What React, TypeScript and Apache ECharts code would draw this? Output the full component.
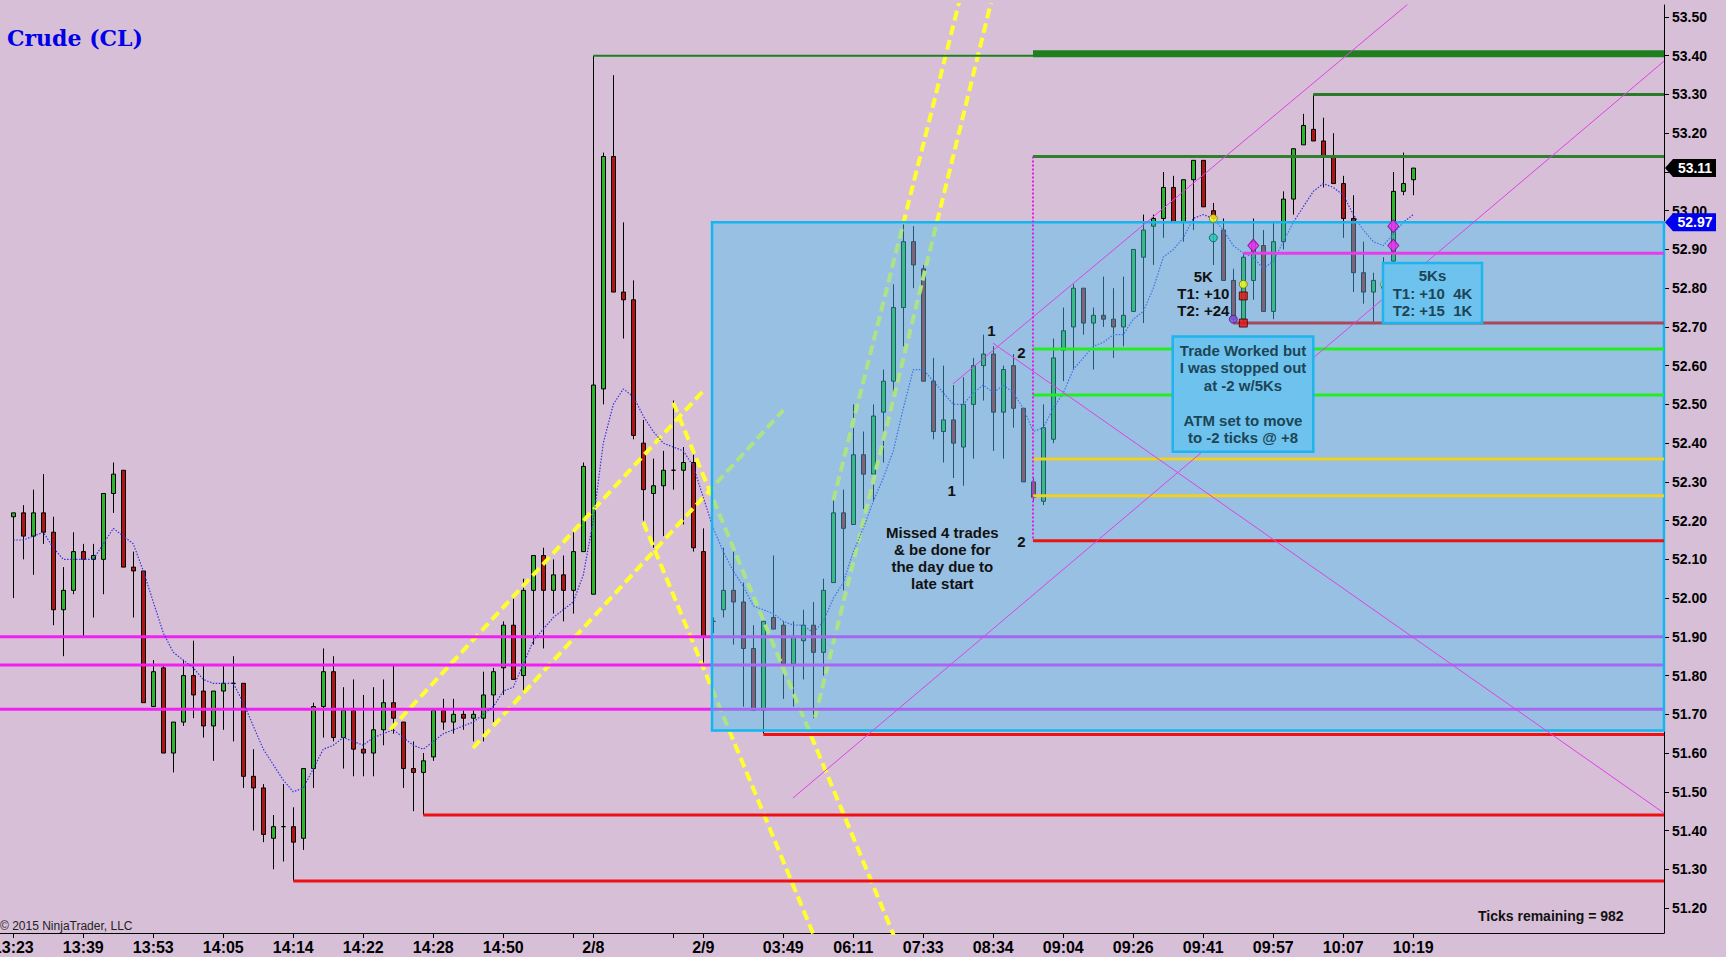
import React, { useEffect, useRef } from "react";
import * as echarts from "echarts";

// bar index axis: bar i sits at x = 13.3 + 10 * i px
const X_MIN = -1.33;
const X_MAX = 165.07;
const Y_MIN = 51.1355;
const Y_MAX = 53.531;

const tickBars = [0, 7, 14, 21, 28, 35, 42, 49, 56, 58, 66, 69, 77, 84, 91, 98, 105, 112, 119, 126, 133, 140];
const labelBars = [0, 7, 14, 21, 28, 35, 42, 49, 58, 69, 77, 84, 91, 98, 105, 112, 119, 126, 133, 140];
const timeLabels = ["13:23", "13:39", "13:53", "14:05", "14:14", "14:22", "14:28", "14:50", "2/8", "2/9", "03:49", "06:11", "07:33", "08:34", "09:04", "09:26", "09:41", "09:57", "10:07", "10:19"];
const priceTicks = [51.2, 51.3, 51.4, 51.5, 51.6, 51.7, 51.8, 51.9, 52.0, 52.1, 52.2, 52.3, 52.4, 52.5, 52.6, 52.7, 52.8, 52.9, 53.0, 53.1, 53.2, 53.3, 53.4, 53.5];
// 53.10 sits under the last-price flag, so no label is shown for it
const priceLabels = [51.2, 51.3, 51.4, 51.5, 51.6, 51.7, 51.8, 51.9, 52.0, 52.1, 52.2, 52.3, 52.4, 52.5, 52.6, 52.7, 52.8, 52.9, 53.0, 53.2, 53.3, 53.4, 53.5];

const opens = [
  52.21, 52.22, 52.16, 52.22, 52.17, 51.97, 52.02, 52.12, 52.10, 52.10,
  52.27, 52.33, 52.08, 52.07, 51.72, 51.82, 51.60, 51.68, 51.80, 51.76,
  51.67, 51.76, 51.78, 51.78, 51.54, 51.51, 51.38, 51.41, 51.41, 51.38,
  51.56, 51.72, 51.81, 51.64, 51.71, 51.61, 51.60, 51.66, 51.73, 51.68,
  51.56, 51.55, 51.59, 51.71, 51.68, 51.70, 51.69, 51.69, 51.75, 51.82,
  51.93, 51.80, 52.02, 52.11, 52.02, 52.06, 52.02, 52.12, 52.01, 52.54,
  53.14, 52.79, 52.77, 52.40, 52.27, 52.29, 52.33, 52.33, 52.35, 52.12,
  51.94, 51.97, 52.02, 51.99, 51.87, 51.71, 51.95, 51.93, 51.83, 51.89,
  51.93, 51.86, 52.04, 52.22, 52.19, 52.37, 52.32, 52.48, 52.56, 52.75,
  52.92, 52.85, 52.56, 52.43, 52.46, 52.39, 52.50, 52.60, 52.63, 52.48,
  52.60, 52.49, 52.30, 52.25, 52.41, 52.64, 52.70, 52.80, 52.71, 52.73,
  52.72, 52.70, 52.74, 52.88, 52.96, 52.98, 53.06, 52.97, 53.08, 53.13,
  53.00, 52.95, 52.82, 52.72, 52.82, 52.91, 52.74, 52.92, 53.03, 53.17,
  53.21, 53.18, 53.14, 53.07, 52.98, 52.84, 52.79, 52.80, 52.87, 53.05, 53.08,
];
const highs = [
  52.22, 52.24, 52.28, 52.32, 52.21, 52.08, 52.17, 52.14, 52.14, 52.27,
  52.35, 52.33, 52.12, 52.07, 51.84, 51.83, 51.68, 51.84, 51.89, 51.83,
  51.76, 51.83, 51.85, 51.78, 51.61, 51.52, 51.44, 51.52, 51.46, 51.56,
  51.73, 51.87, 51.85, 51.77, 51.79, 51.75, 51.77, 51.79, 51.83, 51.68,
  51.63, 51.60, 51.71, 51.74, 51.74, 51.71, 51.71, 51.81, 51.82, 51.94,
  52.00, 52.05, 52.11, 52.13, 52.10, 52.11, 52.17, 52.35, 53.40, 53.15,
  53.35, 52.97, 52.82, 52.46, 52.36, 52.38, 52.51, 52.39, 52.37, 52.18,
  51.95, 52.13, 52.12, 52.04, 51.93, 51.94, 52.11, 51.94, 51.94, 51.97,
  51.99, 52.05, 52.26, 52.28, 52.50, 52.43, 52.50, 52.59, 52.81, 52.97,
  52.96, 52.86, 52.62, 52.60, 52.55, 52.57, 52.62, 52.68, 52.65, 52.60,
  52.63, 52.49, 52.31, 52.50, 52.67, 52.75, 52.81, 52.80, 52.75, 52.83,
  52.80, 52.83, 52.90, 52.99, 52.99, 53.10, 53.09, 53.08, 53.13, 53.13,
  53.02, 52.98, 52.85, 52.89, 52.98, 52.95, 52.97, 53.05, 53.16, 53.25,
  53.30, 53.24, 53.20, 53.09, 53.04, 52.92, 52.84, 52.88, 53.10, 53.15, 53.11,
];
const lows = [
  52.00, 52.10, 52.06, 52.14, 51.93, 51.85, 52.01, 51.90, 51.95, 52.01,
  52.22, 52.08, 51.95, 51.73, 51.72, 51.60, 51.55, 51.67, 51.69, 51.64,
  51.58, 51.66, 51.63, 51.51, 51.40, 51.37, 51.30, 51.32, 51.27, 51.35,
  51.51, 51.64, 51.63, 51.56, 51.54, 51.54, 51.54, 51.62, 51.65, 51.51,
  51.45, 51.44, 51.58, 51.66, 51.65, 51.66, 51.63, 51.63, 51.68, 51.75,
  51.79, 51.76, 51.88, 51.87, 51.96, 51.94, 51.96, 52.12, 52.01, 52.50,
  52.79, 52.67, 52.41, 52.20, 52.13, 52.16, 52.28, 52.19, 52.12, 51.82,
  51.91, 51.95, 51.88, 51.72, 51.71, 51.65, 51.92, 51.74, 51.72, 51.79,
  51.69, 51.80, 52.04, 52.02, 52.19, 52.23, 52.25, 52.35, 52.53, 52.65,
  52.80, 52.56, 52.41, 52.35, 52.31, 52.29, 52.36, 52.51, 52.38, 52.36,
  52.44, 52.30, 52.25, 52.24, 52.40, 52.56, 52.59, 52.68, 52.59, 52.70,
  52.62, 52.65, 52.74, 52.71, 52.86, 52.93, 52.97, 52.92, 52.95, 53.01,
  52.86, 52.82, 52.71, 52.71, 52.77, 52.74, 52.72, 52.90, 52.99, 53.17,
  53.18, 53.06, 53.07, 52.93, 52.79, 52.76, 52.71, 52.77, 52.85, 53.04, 53.04,
];
const closes = [
  52.22, 52.16, 52.22, 52.17, 51.97, 52.02, 52.12, 52.10, 52.11, 52.27,
  52.32, 52.08, 52.07, 51.73, 51.81, 51.60, 51.68, 51.80, 51.75, 51.67,
  51.76, 51.78, 51.78, 51.54, 51.51, 51.39, 51.41, 51.41, 51.37, 51.56,
  51.72, 51.81, 51.64, 51.71, 51.61, 51.60, 51.66, 51.73, 51.69, 51.56,
  51.55, 51.58, 51.71, 51.68, 51.70, 51.69, 51.70, 51.75, 51.81, 51.93,
  51.79, 52.02, 52.11, 52.02, 52.06, 52.02, 52.12, 52.34, 52.55, 53.14,
  52.79, 52.77, 52.42, 52.28, 52.29, 52.33, 52.33, 52.35, 52.13, 51.90,
  51.94, 52.02, 51.99, 51.87, 51.71, 51.94, 51.92, 51.83, 51.90, 51.93,
  51.86, 52.02, 52.22, 52.18, 52.37, 52.32, 52.47, 52.56, 52.75, 52.92,
  52.86, 52.56, 52.43, 52.46, 52.40, 52.50, 52.60, 52.63, 52.48, 52.59,
  52.49, 52.30, 52.26, 52.44, 52.62, 52.69, 52.80, 52.71, 52.73, 52.72,
  52.70, 52.73, 52.90, 52.95, 52.98, 53.06, 52.97, 53.08, 53.13, 53.01,
  52.98, 52.82, 52.72, 52.88, 52.92, 52.74, 52.92, 53.03, 53.16, 53.22,
  53.18, 53.14, 53.07, 52.98, 52.84, 52.79, 52.82, 52.81, 53.05, 53.07, 53.11,
];
// moving average
const movingAvg = [
  52.15, 52.15, 52.16, 52.17, 52.13, 52.10, 52.10, 52.10, 52.10, 52.14,
  52.18, 52.16, 52.14, 52.07, 51.99, 51.91, 51.86, 51.84, 51.82, 51.79,
  51.78, 51.78, 51.78, 51.73, 51.67, 51.61, 51.57, 51.53, 51.50, 51.51,
  51.56, 51.61, 51.62, 51.64, 51.63, 51.62, 51.64, 51.65, 51.66, 51.64,
  51.62, 51.61, 51.63, 51.65, 51.66, 51.67, 51.68, 51.70, 51.72, 51.76,
  51.77, 51.83, 51.89, 51.92, 51.95, 51.97, 51.99, 52.06, 52.20, 52.40,
  52.50, 52.54, 52.52, 52.47, 52.43, 52.40, 52.39, 52.38, 52.34, 52.26,
  52.18, 52.12, 52.07, 52.03, 51.98, 51.97, 51.96, 51.94, 51.93, 51.93,
  51.91, 51.94, 52.00, 52.04, 52.12, 52.18, 52.25, 52.31, 52.38, 52.49,
  52.59, 52.59, 52.56, 52.53, 52.50, 52.50, 52.53, 52.55, 52.53, 52.55,
  52.53, 52.49, 52.43, 52.44, 52.49, 52.53, 52.59, 52.62, 52.65, 52.66,
  52.68, 52.68, 52.72, 52.74, 52.80, 52.88, 52.90, 52.93, 52.98, 52.99,
  52.98, 52.95, 52.91, 52.89, 52.88, 52.85, 52.87, 52.92, 52.97, 53.01,
  53.05, 53.07, 53.06, 53.04, 52.99, 52.95, 52.92, 52.91, 52.94, 52.97, 52.99,
];

// horizontal price levels: price and first bar
const levelPrices = [53.4, 53.405, 53.3, 53.14, 52.89, 52.71, 52.643, 52.524, 52.359, 52.264, 52.148, 51.9, 51.827, 51.713, 51.648, 51.44, 51.27];
const levelStarts = [58, 101.97, 130, 101.97, 123, 122, 101.97, 101.97, 101.97, 101.97, 101.97, X_MIN, X_MIN, X_MIN, 75, 41, 28];
const levelColors = ["#1F7F1F", "#1F7F1F", "#2A7A2A", "#2F7F2F", "#E83CE8", "#A8485E", "#22EE22", "#22EE22", "#F0D020", "#F0D020", "#EE1111", "#F020F0", "#F020F0", "#F020F0", "#EE1111", "#EE1111", "#EE1111"];
const levelWidths = [2, 7, 3, 3, 3, 3, 3, 3, 3, 3, 3, 3, 3, 3, 3, 3, 3];
const levelZ = [4, 4, 4, 4, 4, 4, 4, 4, 4, 4, 4, 2.5, 2.5, 2.5, 4, 4, 4];

// drawn trend lines, [bar, price] end points
const yellowLines = [
  [[37.67, 51.66], [69.0, 52.535]],
  [[45.97, 51.613], [77.0, 52.485]],
  [[63.0, 52.196], [81.9, 51.014]],
  [[66.0, 52.504], [89.9, 51.014]],
  [[82.0, 52.252], [95.15, 53.596]],
  [[80.17, 51.692], [98.33, 53.596]],
];
const magentaLines = [
  [[77.97, 51.484], [X_MAX, 53.386]],
  [[93.97, 52.553], [141.16, 53.57]],
  [[97.97, 52.658], [X_MAX, 51.445]],
];
const entryLine = [[101.97, 53.14], [101.97, 52.148]];

// shaded zone: left bar, top, right, bottom
const zone = [69.87, 52.97, X_MAX, 51.658];

const yellowDots = [[120, 52.98], [123, 52.81]];
const tealDots = [[120, 52.93]];
const purpleDots = [[122, 52.72]];
const paleDots = [[137, 52.81]];
const redSquares = [[123, 52.78], [123, 52.71]];
const diamonds = [[124, 52.91], [138, 52.96], [138, 52.91]];

const noteTexts = ["1", "1", "2", "2", "Missed 4 trades\n& be done for\nthe day due to\nlate start", "5K\nT1: +10\nT2: +24"];
const noteX = [97.8, 93.84, 100.8, 100.8, 92.9, 119.0];
const noteY = [52.692, 52.279, 52.633, 52.145, 52.103, 52.787];

const boxTexts = ["Trade Worked but\nI was stopped out\nat -2 w/5Ks\n\nATM set to move\nto -2 ticks @ +8", "5Ks\nT1: +10  4K\nT2: +15  1K"];
const boxLeft = [115.94, 136.97];
const boxTop = [52.675, 52.865];
const boxRight = [130.0, 146.87];
const boxBottom = [52.378, 52.71];

const flagPrices = [53.11, 52.97];

const FONT = '"Liberation Sans", Arial, sans-serif';

const lineSeries = (data: number[][], color: string, width: number, z: number, type: any = "solid") => ({
  type: "line",
  data,
  symbol: "none",
  silent: true,
  z,
  lineStyle: { color, width, type },
});

const App: React.FC = () => {
  const chartRef = useRef<HTMLDivElement>(null);

  useEffect(() => {
    if (!chartRef.current) return;
    const chart = echarts.init(chartRef.current, null, { renderer: "svg" });

    const candleData = opens.map((o, i) => [i, o, closes[i], lows[i], highs[i]]);

    const series: any[] = [
      {
        type: "candlestick",
        z: 2,
        data: candleData,
        barWidth: 4,
        itemStyle: {
          color: "#2DB52D",
          color0: "#B01414",
          borderColor: "#000",
          borderColor0: "#000",
          borderWidth: 1,
        },
      },
      lineSeries(movingAvg.map((v, i) => [i, v]), "#3434E0", 1.2, 2.6, [1.5, 1.5]),
      ...yellowLines.map((l) => lineSeries(l, "#FFFF30", 4, 2.5, [10, 5])),
      ...levelPrices.map((p, i) =>
        lineSeries([[levelStarts[i], p], [X_MAX, p]], levelColors[i], levelWidths[i], levelZ[i])
      ),
      ...magentaLines.map((l) => lineSeries(l, "#E040E8", 1, 4)),
      lineSeries(entryLine, "#E020E0", 2, 4, [2, 2]),
      {
        type: "custom",
        z: 3,
        silent: true,
        data: [zone],
        encode: { x: [0, 2], y: [1, 3] },
        renderItem: (params: any, api: any) => {
          const a = api.coord([api.value(0), api.value(1)]);
          const b = api.coord([api.value(2), api.value(3)]);
          return {
            type: "rect",
            shape: { x: a[0], y: a[1], width: b[0] - a[0], height: b[1] - a[1] },
            style: { fill: "rgba(74,193,240,0.45)", stroke: "#12B6F0", lineWidth: 2.5 },
          };
        },
      },
      {
        type: "scatter", z: 5, silent: true, data: yellowDots, symbol: "circle", symbolSize: 8,
        itemStyle: { color: "#FFFF20", borderColor: "#6A6A00", borderWidth: 1 },
      },
      {
        type: "scatter", z: 5, silent: true, data: tealDots, symbol: "circle", symbolSize: 8,
        itemStyle: { color: "#20C8B8", borderColor: "#0A5A55", borderWidth: 1 },
      },
      {
        type: "scatter", z: 5, silent: true, data: purpleDots, symbol: "circle", symbolSize: 8,
        itemStyle: { color: "#8A4CE8", borderColor: "#3A1A6A", borderWidth: 1 },
      },
      {
        type: "scatter", z: 5, silent: true, data: paleDots, symbol: "circle", symbolSize: 6,
        itemStyle: { color: "#E6F08C", borderColor: "#6A7A30", borderWidth: 1 },
      },
      {
        type: "scatter", z: 5, silent: true, data: redSquares, symbol: "rect", symbolSize: 8,
        itemStyle: { color: "#EE1010", borderColor: "#400000", borderWidth: 1 },
      },
      {
        type: "scatter", z: 5, silent: true, data: diamonds, symbol: "diamond", symbolSize: [11, 13],
        itemStyle: { color: "#FF22FF", borderColor: "#7A107A", borderWidth: 1 },
      },
      {
        type: "custom",
        z: 6,
        silent: true,
        data: boxLeft.map((l, i) => [l, boxTop[i], boxRight[i], boxBottom[i]]),
        encode: { x: [0, 2], y: [1, 3] },
        renderItem: (params: any, api: any) => {
          const a = api.coord([api.value(0), api.value(1)]);
          const b = api.coord([api.value(2), api.value(3)]);
          return {
            type: "group",
            children: [
              {
                type: "rect",
                shape: { x: a[0], y: a[1], width: b[0] - a[0], height: b[1] - a[1] },
                style: { fill: "#6EC3EE", stroke: "#1EB4EC", lineWidth: 2.5 },
              },
              {
                type: "text",
                x: (a[0] + b[0]) / 2,
                y: (a[1] + b[1]) / 2,
                style: {
                  text: boxTexts[params.dataIndex],
                  fill: "#1D4556",
                  font: `bold 15px ${FONT}`,
                  align: "center",
                  verticalAlign: "middle",
                  lineHeight: 17.5,
                },
              },
            ],
          };
        },
      },
      {
        type: "custom",
        z: 6,
        silent: true,
        data: noteX.map((x, i) => [x, noteY[i]]),
        renderItem: (params: any, api: any) => {
          const p = api.coord([api.value(0), api.value(1)]);
          return {
            type: "text",
            x: p[0],
            y: p[1],
            style: {
              text: noteTexts[params.dataIndex],
              fill: "#111",
              font: `bold 15px ${FONT}`,
              align: "center",
              verticalAlign: "middle",
              lineHeight: 17,
            },
          };
        },
      },
      {
        type: "custom",
        z: 10,
        silent: true,
        clip: false,
        data: flagPrices.map((p) => [X_MAX, p]),
        renderItem: (params: any, api: any) => {
          const p = api.coord([api.value(0), api.value(1)]);
          const x = p[0];
          const y = p[1];
          const fill = params.dataIndex === 0 ? "#000" : "#0000EE";
          return {
            type: "group",
            children: [
              {
                type: "polygon",
                shape: { points: [[x + 1, y], [x + 9, y - 9], [x + 52, y - 9], [x + 52, y + 9], [x + 9, y + 9]] },
                style: { fill },
              },
              {
                type: "text",
                x: x + 31,
                y,
                style: {
                  text: flagPrices[params.dataIndex].toFixed(2),
                  fill: "#fff",
                  font: `bold 14px ${FONT}`,
                  align: "center",
                  verticalAlign: "middle",
                },
              },
            ],
          };
        },
      },
    ];

    const option: any = {
      animation: false,
      backgroundColor: "#D8BFD8",
      grid: { left: 0, right: 62, top: 5, bottom: 24, outerBoundsMode: "none", containLabel: false },
      xAxis: {
        type: "value",
        min: X_MIN,
        max: X_MAX,
        axisLine: { show: true, onZero: false, lineStyle: { color: "#000", width: 1 } },
        axisTick: { show: true, length: 5, customValues: tickBars, lineStyle: { color: "#000" } },
        axisLabel: {
          customValues: labelBars,
          formatter: (v: number) => {
            const k = labelBars.indexOf(Math.round(v));
            return k >= 0 ? timeLabels[k] : "";
          },
          color: "#000",
          fontWeight: "bold",
          fontSize: 16,
          fontFamily: '"Liberation Sans Narrow", "Liberation Sans", Arial, sans-serif',
          margin: 6,
        },
        splitLine: { show: false },
      },
      yAxis: {
        type: "value",
        position: "right",
        min: Y_MIN,
        max: Y_MAX,
        axisLine: { show: true, onZero: false, lineStyle: { color: "#000", width: 1 } },
        axisTick: { show: true, length: 5, customValues: priceTicks, lineStyle: { color: "#000" } },
        axisLabel: {
          customValues: priceLabels,
          formatter: (v: number) => v.toFixed(2),
          color: "#000",
          fontWeight: "bold",
          fontSize: 14,
          fontFamily: FONT,
          margin: 8,
        },
        splitLine: { show: false },
      },
      graphic: [
        {
          type: "text",
          left: 7,
          top: 27,
          style: { text: "Crude (CL)", fill: "#0000E6", font: 'bold 22px "DejaVu Serif", serif' },
        },
        {
          type: "text",
          left: 0,
          top: 920,
          style: {
            text: "© 2015 NinjaTrader, LLC",
            fill: "#222",
            font: '12px "Liberation Sans Narrow", "Liberation Sans", sans-serif',
          },
        },
        {
          type: "text",
          left: 1478,
          top: 909,
          style: { text: "Ticks remaining = 982", fill: "#111", font: `bold 14px ${FONT}` },
        },
      ],
      series,
    };

    chart.setOption(option);

    return () => {
      chart.dispose();
    };
  }, []);

  return (
    <div
      ref={chartRef}
      style={{ position: "fixed", left: 0, top: 0, width: "1726px", height: "957px" }}
    />
  );
};

export default App;
